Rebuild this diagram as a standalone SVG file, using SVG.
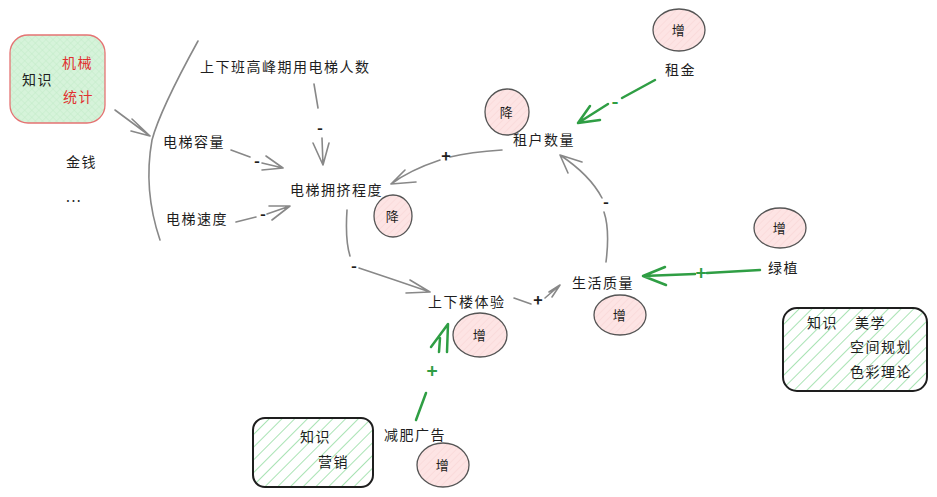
<svg xmlns="http://www.w3.org/2000/svg" width="937" height="497" viewBox="0 0 937 497">
<defs>
<pattern id="hatch" patternUnits="userSpaceOnUse" width="9" height="9" patternTransform="rotate(45)">
<rect width="9" height="9" fill="#ffffff"/>
<line x1="0" y1="0" x2="0" y2="9" stroke="#a9e3b4" stroke-width="2"/>
</pattern>
<pattern id="cross" patternUnits="userSpaceOnUse" width="5" height="5" patternTransform="rotate(45)">
<rect width="5" height="5" fill="#d6f3da"/>
<line x1="0" y1="0" x2="0" y2="5" stroke="#c2ebc8" stroke-width="1"/>
<line x1="0" y1="0" x2="5" y2="0" stroke="#c2ebc8" stroke-width="1"/>
</pattern>
<pattern id="pink" patternUnits="userSpaceOnUse" width="5" height="5" patternTransform="rotate(45)">
<rect width="5" height="5" fill="#fde4e4"/>
<line x1="0" y1="0" x2="0" y2="5" stroke="#f7d2d2" stroke-width="1"/>
</pattern>
</defs>
<style>
text{font-family:"Noto Sans CJK SC","Noto Sans",sans-serif;font-size:14px;fill:#1e1e1e;letter-spacing:1.5px}
.red{fill:#e03131}
.c{fill:url(#pink);stroke:#555;stroke-width:1.3}
.g{fill:none;stroke:#888;stroke-width:1.6;stroke-linecap:round;stroke-linejoin:round}
.gr{fill:none;stroke:#2f9e44;stroke-width:2.5;stroke-linecap:round;stroke-linejoin:round}
.ct{text-anchor:middle;font-size:13px}
.sg{font-size:16px;font-weight:bold;text-anchor:middle;letter-spacing:0}
.sgg{font-size:19px;font-weight:bold;text-anchor:middle;fill:#2f9e44;letter-spacing:0}
</style>

<g id="box-mech">
<rect x="10" y="35" width="95" height="88" rx="18" fill="url(#cross)" stroke="#e57373" stroke-width="1.3"/>
<text x="22" y="85">知识</text>
<text x="62" y="68" class="red">机械</text>
<text x="63" y="102" class="red">统计</text>
</g>
<g id="bracket">
<path class="g" d="M198,41 Q160,110 152,140 Q143,190 160,240"/>
</g>
<g id="n-peak"><text x="200" y="72">上下班高峰期用电梯人数</text></g>
<g id="n-cap"><text x="163" y="147">电梯容量</text></g>
<g id="n-money"><text x="66" y="167">金钱</text></g>
<g id="n-dots"><text x="66" y="202">...</text></g>
<g id="n-speed"><text x="166" y="224">电梯速度</text></g>
<g id="n-crowd"><text x="290" y="195">电梯拥挤程度</text></g>
<g id="c-crowd"><ellipse class="c" cx="393" cy="216" rx="19" ry="21"/><text class="ct" x="393" y="221">降</text></g>
<g id="n-tenant"><text x="513" y="145">租户数量</text></g>
<g id="c-tenant"><ellipse class="c" cx="507" cy="112" rx="22" ry="23"/><text class="ct" x="507" y="117">降</text></g>
<g id="n-rent"><text x="665" y="75">租金</text></g>
<g id="c-rent"><ellipse class="c" cx="679" cy="30" rx="26" ry="21"/><text class="ct" x="679" y="35">增</text></g>
<g id="n-plant"><text x="768" y="273">绿植</text></g>
<g id="c-plant"><ellipse class="c" cx="780" cy="228" rx="26" ry="20"/><text class="ct" x="780" y="233">增</text></g>
<g id="n-life"><text x="572" y="288">生活质量</text></g>
<g id="c-life"><ellipse class="c" cx="620" cy="315" rx="26" ry="20"/><text class="ct" x="620" y="320">增</text></g>
<g id="n-stairs"><text x="428" y="307">上下楼体验</text></g>
<g id="c-stairs"><ellipse class="c" cx="480" cy="335" rx="27" ry="22"/><text class="ct" x="480" y="340">增</text></g>
<g id="n-ad"><text x="384" y="440">减肥广告</text></g>
<g id="c-ad"><ellipse class="c" cx="443" cy="465" rx="26" ry="22"/><text class="ct" x="443" y="470">增</text></g>

<g id="box-market">
<rect x="253" y="418" width="120" height="69" rx="12" fill="url(#hatch)" stroke="#1e1e1e" stroke-width="2"/>
<text x="300" y="442">知识</text>
<text x="318" y="467">营销</text>
</g>
<g id="box-art">
<rect x="783" y="308" width="144" height="83" rx="14" fill="url(#hatch)" stroke="#1e1e1e" stroke-width="2"/>
<text x="807" y="328">知识</text>
<text x="855" y="328">美学</text>
<text x="850" y="352">空间规划</text>
<text x="850" y="377">色彩理论</text>
</g>

<g id="connectors">
<path class="g" d="M115,110 L150,136 M132,119 L150,136 L131,131"/>
<path class="g" d="M314,84 L318,108 M322,138 L323,165 M313,143 L323,165 L329,143"/>
<text class="sg" x="320" y="134">-</text>
<path class="g" d="M231,150 L250,157 M262,163 L283,168 M266,156 L283,168 L262,170"/>
<text class="sg" x="257" y="167">-</text>
<path class="g" d="M236,222 L256,217 M267,214 L290,206 M269,206 L290,206 L272,220"/>
<text class="sg" x="263" y="220">-</text>
<path class="g" d="M502,150 Q470,152 450,157 M440,160 Q410,170 391,184 M405,170 L391,184 L416,182"/>
<text class="sg" x="446" y="162">+</text>
<path class="gr" d="M655,80 L622,98 M608,104 L578,123 M590,106 L578,123 L600,120"/>
<text class="sgg" x="615" y="108">-</text>
<path class="g" d="M606,262 Q610,230 604,212 M602,198 Q590,175 560,155 M568,173 L560,155 L582,162"/>
<text class="sg" x="606" y="208">-</text>
<path class="gr" d="M760,270 L707,273 M695,274 L643,276 M665,267 L643,276 L666,285"/>
<text class="sgg" x="701" y="280">+</text>
<path class="g" d="M347,210 Q345,240 350,256 M359,268 Q395,280 430,292 M410,280 L430,292 L406,293"/>
<text class="sg" x="354" y="272">-</text>
<path class="g" d="M514,298 L531,304 M545,298 L560,285 M549,292 L560,285 L552,297"/>
<text class="sg" x="538" y="306">+</text>
<path class="gr" d="M416,420 L426,393 M431,347 L448,324 L447,352 M440,338 L439,352"/>
<text class="sgg" x="432" y="378">+</text>
</g>
</svg>
